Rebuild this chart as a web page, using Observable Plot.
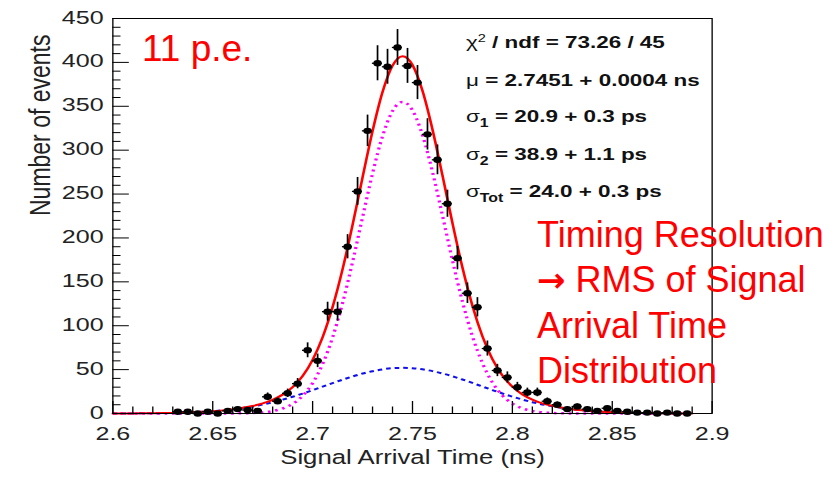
<!DOCTYPE html>
<html>
<head>
<meta charset="utf-8">
<script src="https://cdn.jsdelivr.net/npm/d3@7"></script>
<script src="https://cdn.jsdelivr.net/npm/@observablehq/plot@0.6"></script>
<style>
  html, body { margin: 0; padding: 0; background: #fff; }
  #stage { position: relative; width: 840px; height: 479px; overflow: hidden; background: #fff;
           font-family: "Liberation Sans", Arial, Helvetica, sans-serif; }
  #root { position: absolute; left: 0; top: 0; width: 636px; height: 479px;
          transform: scaleX(1.32); transform-origin: 0 0; }
  #root svg { position: absolute; left: 0; top: 0; display: block; }
  .stat { position: absolute; left: 353px; font-size: 17px; line-height: 20px; font-weight: bold;
          color: #111; white-space: nowrap; }
  .stat .g { font-weight: normal; }
  .stat sub { font-size: 12px; vertical-align: -5px; line-height: 0; }
  .stat sup { font-size: 11px; vertical-align: 6px; line-height: 0; font-weight: normal; }
  .note { position: absolute; color: #ff0000; white-space: nowrap; }
  .arrow { font-family: "DejaVu Sans", sans-serif; font-weight: bold; font-size: 34px; }
</style>
</head>
<body>
<div id="stage">
  <div id="root">
    <div class="stat" style="top:33px"><span class="g">χ</span><sup>2</sup> / ndf = 73.26 / 45</div>
    <div class="stat" style="top:70.5px"><span class="g">μ</span> = 2.7451 + 0.0004 ns</div>
    <div class="stat" style="top:107px"><span class="g">σ</span><sub>1</sub> = 20.9 + 0.3 ps</div>
    <div class="stat" style="top:145px"><span class="g">σ</span><sub>2</sub> = 38.9 + 1.1 ps</div>
    <div class="stat" style="top:182px"><span class="g">σ</span><sub>Tot</sub> = 24.0 + 0.3 ps</div>
  </div>
  <div class="note" style="left:142px;top:30.4px;font-size:37px;line-height:37px">11 p.e.</div>
  <div class="note" style="left:537px;top:211.7px;font-size:36px;line-height:45px">Timing Resolution<br><span class="arrow">→</span> RMS of Signal<br>Arrival Time<br>Distribution</div>
</div>
<script>
// ---- histogram (bin centres in ns, counts) ----
const histTime = [2.6325, 2.6375, 2.6425, 2.6475, 2.6525, 2.6575, 2.6625, 2.6675, 2.6725, 2.6775,
  2.6825, 2.6875, 2.6925, 2.6975, 2.7025, 2.7075, 2.7125, 2.7175, 2.7225, 2.7275,
  2.7325, 2.7375, 2.7425, 2.7475, 2.7525, 2.7575, 2.7625, 2.7675, 2.7725, 2.7775,
  2.7825, 2.7875, 2.7925, 2.7975, 2.8025, 2.8075, 2.8125, 2.8175, 2.8225, 2.8275,
  2.8325, 2.8375, 2.8425, 2.8475, 2.8525, 2.8575, 2.8625, 2.8675, 2.8725, 2.8775,
  2.8825, 2.8875];
const histCounts = [2, 2, 0, 2, 0, 3, 5, 4, 3, 19,
  14, 23, 34, 72, 60, 116, 116, 190, 253, 322,
  399, 395, 417, 396, 377, 318, 289, 239, 177, 137,
  121, 74, 49, 41, 30, 24, 24, 14, 10, 5,
  8, 5, 3, 6, 3, 2, 1, 1, 0, 1,
  0, 0];

// ---- fit curves ----
const fitTime = [2.600, 2.605, 2.610, 2.615, 2.620, 2.625, 2.630, 2.635, 2.640, 2.645,
  2.650, 2.655, 2.660, 2.665, 2.670, 2.675, 2.680, 2.685, 2.690, 2.695,
  2.700, 2.705, 2.710, 2.715, 2.720, 2.725, 2.730, 2.735, 2.740, 2.745,
  2.750, 2.755, 2.760, 2.765, 2.770, 2.775, 2.780, 2.785, 2.790, 2.795,
  2.800, 2.805, 2.810, 2.815, 2.820, 2.825, 2.830, 2.835, 2.840, 2.845,
  2.850, 2.855, 2.860, 2.865, 2.870, 2.875, 2.880, 2.885, 2.890];
const fitTotal = [0.05, 0.08, 0.12, 0.19, 0.3, 0.44, 0.65, 0.95, 1.35, 1.9,
  2.6, 3.56, 4.8, 6.5, 8.6, 11.5, 15.6, 21.5, 30.1, 42.8,
  61.2, 86.9, 121.3, 164.4, 214.8, 269.0, 321.7, 366.2, 396.2, 407.0,
  397.0, 367.6, 323.6, 271.2, 217.0, 166.3, 122.8, 88.1, 62.0, 43.3,
  30.5, 21.7, 15.8, 11.6, 8.8, 6.5, 4.9, 3.6, 2.65, 1.93,
  1.37, 0.96, 0.66, 0.45, 0.30, 0.2, 0.13, 0.08, 0.05];
const fitNarrow = [0, 0, 0, 0, 0, 0, 0, 0, 0, 0,
  0, 0, 0.08, 0.23, 0.56, 1.28, 2.78, 5.7, 11.0, 20.1,
  34.6, 56.3, 86.7, 125.9, 172.6, 223.5, 273.5, 315.9, 344.6, 355.0,
  345.4, 317.3, 275.3, 225.6, 174.6, 127.6, 88.0, 57.4, 35.3, 20.5,
  11.3, 5.8, 2.9, 1.3, 0.6, 0.23, 0.08, 0, 0, 0,
  0, 0, 0, 0, 0, 0, 0, 0, 0];
const fitWide = [0.05, 0.08, 0.12, 0.19, 0.3, 0.44, 0.65, 0.95, 1.35, 1.9,
  2.6, 3.56, 4.75, 6.24, 8.07, 10.25, 12.8, 15.8, 19.1, 22.7,
  26.6, 30.6, 34.6, 38.5, 42.2, 45.5, 48.2, 50.3, 51.6, 52.0,
  51.6, 50.3, 48.3, 45.6, 42.4, 38.7, 34.8, 30.7, 26.7, 22.8,
  19.2, 15.9, 12.9, 10.3, 8.2, 6.3, 4.8, 3.6, 2.65, 1.93,
  1.37, 0.96, 0.66, 0.45, 0.30, 0.2, 0.13, 0.08, 0.05];

// ---- axis ticks ----
const xTicks = [2.6, 2.65, 2.7, 2.75, 2.8, 2.85, 2.9];
const xMinor = [2.61, 2.62, 2.63, 2.64, 2.66, 2.67, 2.68, 2.69, 2.71, 2.72, 2.73, 2.74,
  2.76, 2.77, 2.78, 2.79, 2.81, 2.82, 2.83, 2.84, 2.86, 2.87, 2.88, 2.89];
const yTicks = [0, 50, 100, 150, 200, 250, 300, 350, 400, 450];
const yMinor = d3.range(10, 450, 10).filter(v => v % 50 !== 0);

const xLabel = "Signal Arrival Time (ns)";
const yLabel = "Number of events";

// ---- tables ----
const hist = histTime.map((t, i) => ({t, n: histCounts[i]}));
const fit = fitTime.map((t, i) => ({t, total: fitTotal[i], narrow: fitNarrow[i], wide: fitWide[i]}));

const W = 636, H = 479, ML = 85, MR = 97, MT = 18, MB = 66;
const PW = W - ML - MR, PH = H - MT - MB;

const chart = Plot.plot({
  width: W, height: H,
  marginLeft: ML, marginRight: MR, marginTop: MT, marginBottom: MB,
  x: {domain: [2.6, 2.9]},
  y: {domain: [0, 450]},
  style: {fontFamily: "'Liberation Sans', Arial, Helvetica, sans-serif", background: "transparent", color: "#222"},
  marks: [
    Plot.line(fit, {x: "t", y: "wide", stroke: "#1010ee", strokeWidth: 2, strokeDasharray: "3.5,3", strokeLinecap: "butt", curve: "monotone-x"}),
    Plot.line(fit, {x: "t", y: "narrow", stroke: "#ff00ff", strokeWidth: 2.5, strokeDasharray: "2,3.6", strokeLinecap: "butt", curve: "monotone-x"}),
    Plot.line(fit, {x: "t", y: "total", stroke: "#ff0000", strokeWidth: 2, curve: "monotone-x"}),
    Plot.frame({stroke: "#000", strokeWidth: 1}),
    Plot.tickX(xMinor, {x: d => d, insetTop: PH - 6.5, stroke: "#000"}),
    Plot.tickX(xTicks, {x: d => d, insetTop: PH - 12, stroke: "#000"}),
    Plot.tickY(yMinor, {y: d => d, insetRight: PW - 6.3, stroke: "#000"}),
    Plot.tickY(yTicks, {y: d => d, insetRight: PW - 12.6, stroke: "#000"}),
    Plot.axisX(xTicks, {tickSize: 0, tickPadding: 13, fontSize: 19, tickFormat: d => String(d), label: null}),
    Plot.axisY(yTicks, {tickSize: 0, tickPadding: 7, dy: -1, fontSize: 19, label: null}),
    Plot.text([xLabel], {text: d => d, frameAnchor: "bottom", dy: 50, fontSize: 19.5, fill: "#222"}),
    Plot.text([yLabel], {text: d => d, frameAnchor: "left", rotate: -90, dx: -54.7, fontSize: 23, fill: "#222"}),
    Plot.ruleX(hist.filter(d => d.n > 0), {x: "t", y1: d => d.n - Math.sqrt(d.n), y2: d => d.n + Math.sqrt(d.n), stroke: "#000", strokeWidth: 1.3}),
    Plot.ruleY(hist, {y: "n", x1: d => d.t - 0.0025, x2: d => d.t + 0.0025, stroke: "#000", strokeWidth: 1.3}),
    Plot.dot(hist, {x: "t", y: "n", r: 3.2, fill: "#000"})
  ]
});
document.getElementById("root").prepend(chart);
</script>
</body>
</html>
